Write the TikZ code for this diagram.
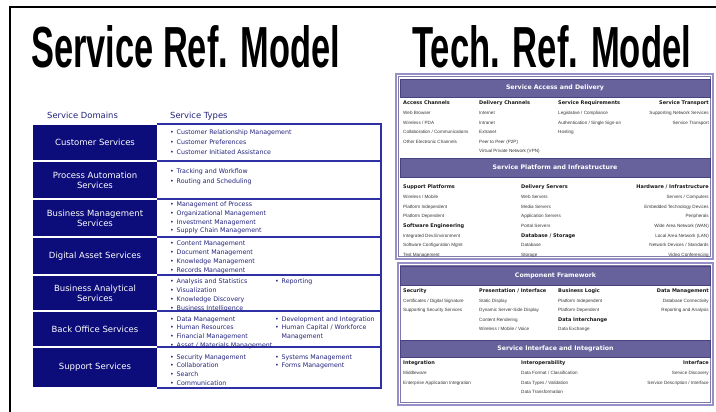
\documentclass[tikz,border=0pt]{standalone}
\usepackage{graphicx}
\usepackage{fontspec}
\setmainfont{Liberation Sans}
\newfontfamily\dvs{DejaVu Sans}
\newfontfamily\lib{Liberation Sans}
\definecolor{navyC}{RGB}{12,12,122}
\definecolor{tline}{RGB}{48,48,165}
\definecolor{ttext}{RGB}{35,35,125}
\definecolor{barC}{RGB}{104,98,156}
\definecolor{barD}{RGB}{72,66,128}
\definecolor{frameC}{RGB}{150,144,200}
\definecolor{itemC}{RGB}{55,55,55}
\newcommand\bul{\makebox[6.5pt][l]{\textbullet}}
\tikzset{
  cell/.style={text=white, font=\dvs\fontsize{8.5}{10}\selectfont, align=center, inner sep=0},
  ty/.style={text=ttext, font=\dvs\fontsize{6.3}{7}\selectfont, inner sep=0, anchor=base west},
  thd/.style={text=ttext, font=\dvs\fontsize{8.4}{9}\selectfont, inner sep=0, anchor=base west},
  tl/.style={draw=tline, line width=1.4pt},
  bar/.style={fill=barC, draw=barD, line width=0.6pt, text=white, font=\dvs\bfseries\fontsize{6.2}{7}\selectfont, minimum width=310pt, inner sep=0},
  hd/.style={font=\dvs\bfseries\fontsize{5}{6}\selectfont, text=black!90, inner sep=0},
  it/.style={font=\lib\fontsize{4.6}{5}\selectfont, text=itemC, inner sep=0},
  title/.style={inner sep=0, anchor=base west, font=\lib\bfseries},
  frm/.style={draw=frameC, line width=2pt},
  frmin/.style={draw=barD!70, line width=0.4pt}
}
\begin{document}
\begin{tikzpicture}[x=1pt,y=-1pt]
\useasboundingbox (0,0) rectangle (716,412);
\fill[white] (0,0) rectangle (716,412);
\draw[black, line width=2pt] (10,430) -- (10,7) -- (730,7);
% titles
\node[title] (t1) at (31,68) {\resizebox{309pt}{42pt}{Service Ref. Model}};
\node[title] (t2) at (412,68) {\resizebox{279pt}{42pt}{Tech. Ref. Model}};
% ---------------- left table
\node[thd] (h1) at (47,118.5) {Service Domains};
\node[thd] (h2) at (170,118.5) {Service Types};
\foreach \tp/\bt/\lab [count=\i] in {124/161/Customer Services, 161/199/{Process Automation\\Services}, 199/237/{Business Management\\Services}, 237/275/Digital Asset Services, 275/311/{Business Analytical\\Services}, 311/347/Back Office Services, 347/388/Support Services}{
  \fill[navyC] (33,\tp+0.8) rectangle (156.5,\bt-0.8);
  \node[cell] (dom\i) at (95,{(\tp+\bt)/2}) {\lab};
}
\foreach \yy in {124,161,199,237,275,311,347,388} \draw[tl] (156.5,\yy) -- (381,\yy);
\draw[tl] (381,123.3) -- (381,388.7);
% row items
\foreach \t [count=\i] in {Customer Relationship Management, Customer Preferences, Customer Initiated Assistance}
  \node[ty] (ra\i) at (170,{133+(\i-1)*9.5+2}) {\bul\t};
\foreach \t [count=\i] in {Tracking and Workflow, Routing and Scheduling}
  \node[ty] (rb\i) at (170,{172+(\i-1)*9.5+2}) {\bul\t};
\foreach \t [count=\i] in {Management of Process, Organizational Management, Investment Management, Supply Chain Management}
  \node[ty] (rc\i) at (170,{204+(\i-1)*9+2}) {\bul\t};
\foreach \t [count=\i] in {Content Management, Document Management, Knowledge Management, Records Management}
  \node[ty] (rd\i) at (170,{243+(\i-1)*9+2}) {\bul\t};
\foreach \t [count=\i] in {Analysis and Statistics, Visualization, Knowledge Discovery, Business Intelligence}
  \node[ty] (re\i) at (170,{281+(\i-1)*9+2}) {\bul\t};
\node[ty] (re5) at (275,283) {\bul Reporting};
\foreach \t [count=\i] in {Data Management, Human Resources, Financial Management, Asset / Materials Management}
  \node[ty] (rf\i) at (170,{319+(\i-1)*8.8+2}) {\bul\t};
\node[ty] (rf5) at (275,321) {\bul Development and Integration};
\node[ty] (rf6) at (275,329.8) {\bul Human Capital / Workforce};
\node[ty] (rf7) at (281.5,338.6) {Management};
\foreach \t [count=\i] in {Security Management, Collaboration, Search, Communication}
  \node[ty] (rg\i) at (170,{357+(\i-1)*8.8+2}) {\bul\t};
\node[ty] (rg5) at (275,359) {\bul Systems Management};
\node[ty] (rg6) at (275,367.8) {\bul Forms Management};
% ---------------- right panel
\draw[frm] (396,74) rectangle (712.5,258.5);
\draw[frmin] (398.6,76.6) rectangle (710.6,256.2);
\draw[frm] (398,263) rectangle (712.5,404.5);
\draw[frmin] (400.4,265.2) rectangle (710.6,402.2);
\node[bar, minimum height=18pt] (b1) at (555,88) {Service Access and Delivery};
\node[bar, minimum height=19pt] (b2) at (555,167.5) {Service Platform and Infrastructure};
\node[bar, minimum height=19pt] (b3) at (555.5,275.5) {Component Framework};
\node[bar, minimum height=17pt] (b4) at (555.5,348.5) {Service Interface and Integration};
% section A
\node[hd, anchor=base west] (ah1) at (403,104.8) {Access Channels};
\node[hd, anchor=base west] (ah2) at (479,104.8) {Delivery Channels};
\node[hd, anchor=base west] (ah3) at (558,104.8) {Service Requirements};
\node[hd, anchor=base east] (ah4) at (709,104.8) {Service Transport};
\foreach \t [count=\i] in {Web Browser, Wireless / PDA, Collaboration / Communications, Other Electronic Channels}
  \node[it, anchor=base west] (a1\i) at (403,{113+(\i-1)*9.5+1.6}) {\t};
\foreach \t [count=\i] in {Internet, Intranet, Extranet, Peer to Peer (P2P), Virtual Private Network (VPN)}
  \node[it, anchor=base west] (a2\i) at (479,{113+(\i-1)*9.5+1.6}) {\t};
\foreach \t [count=\i] in {Legislative / Compliance, Authentication / Single Sign-on, Hosting}
  \node[it, anchor=base west] (a3\i) at (558,{113+(\i-1)*9.5+1.6}) {\t};
\foreach \t [count=\i] in {Supporting Network Services, Service Transport}
  \node[it, anchor=base east] (a4\i) at (709,{113+(\i-1)*9.5+1.6}) {\t};
% section B
\node[hd, anchor=base west] (bh1) at (403,188.8) {Support Platforms};
\node[hd, anchor=base west] (bh2) at (403,227.6) {Software Engineering};
\node[hd, anchor=base west] (bh3) at (521,188.8) {Delivery Servers};
\node[hd, anchor=base west] (bh4) at (521,237.3) {Database / Storage};
\node[hd, anchor=base east] (bh5) at (709,188.8) {Hardware / Infrastructure};
\foreach \t [count=\i] in {Wireless / Mobile, Platform Independent, Platform Dependent}
  \node[it, anchor=base west] (b1\i) at (403,{187+\i*9.7+1.6}) {\t};
\foreach \t [count=\i] in {Integrated Dev.Environment, Software Configuration Mgmt, Test Management}
  \node[it, anchor=base west] (b2\i) at (403,{187+(\i+4)*9.7+1.6}) {\t};
\foreach \t [count=\i] in {Web Servers, Media Servers, Application Servers, Portal Servers}
  \node[it, anchor=base west] (b3\i) at (521,{187+\i*9.7+1.6}) {\t};
\foreach \t [count=\i] in {Database, Storage}
  \node[it, anchor=base west] (b4\i) at (521,{187+(\i+5)*9.7+1.6}) {\t};
\foreach \t [count=\i] in {Servers / Computers, Embedded Technology Devices, Peripherals, Wide Area Network (WAN), Local Area Network (LAN), Network Devices / Standards, Video Conferencing}
  \node[it, anchor=base east] (b5\i) at (709,{187+\i*9.7+1.6}) {\t};
% section C
\node[hd, anchor=base west] (ch1) at (403,292.8) {Security};
\node[hd, anchor=base west] (ch2) at (479,292.8) {Presentation / Interface};
\node[hd, anchor=base west] (ch3) at (558,292.8) {Business Logic};
\node[hd, anchor=base west] (ch4) at (558,321.3) {Data Interchange};
\node[hd, anchor=base east] (ch5) at (709,292.8) {Data Management};
\foreach \t [count=\i] in {Certificates / Digital Signature, Supporting Security Services}
  \node[it, anchor=base west] (c1\i) at (403,{291+\i*9.5+1.6}) {\t};
\foreach \t [count=\i] in {Static Display, Dynamic Server-Side Display, Content Rendering, Wireless / Mobile / Voice}
  \node[it, anchor=base west] (c2\i) at (479,{291+\i*9.5+1.6}) {\t};
\foreach \t [count=\i] in {Platform Independent, Platform Dependent}
  \node[it, anchor=base west] (c3\i) at (558,{291+\i*9.5+1.6}) {\t};
\node[it, anchor=base west] (c41) at (558,{291+4*9.5+1.6}) {Data Exchange};
\foreach \t [count=\i] in {Database Connectivity, Reporting and Analysis}
  \node[it, anchor=base east] (c5\i) at (709,{291+\i*9.5+1.6}) {\t};
% section D
\node[hd, anchor=base west] (dh1) at (403,364.8) {Integration};
\node[hd, anchor=base west] (dh2) at (521,364.8) {Interoperability};
\node[hd, anchor=base east] (dh3) at (709,364.8) {Interface};
\foreach \t [count=\i] in {Middleware, Enterprise Application Integration}
  \node[it, anchor=base west] (d1\i) at (403,{363+\i*9.7+1.6}) {\t};
\foreach \t [count=\i] in {Data Format / Classification, Data Types / Validation, Data Transformation}
  \node[it, anchor=base west] (d2\i) at (521,{363+\i*9.7+1.6}) {\t};
\foreach \t [count=\i] in {Service Discovery, Service Description / Interface}
  \node[it, anchor=base east] (d3\i) at (709,{363+\i*9.7+1.6}) {\t};
\end{tikzpicture}
\end{document}
